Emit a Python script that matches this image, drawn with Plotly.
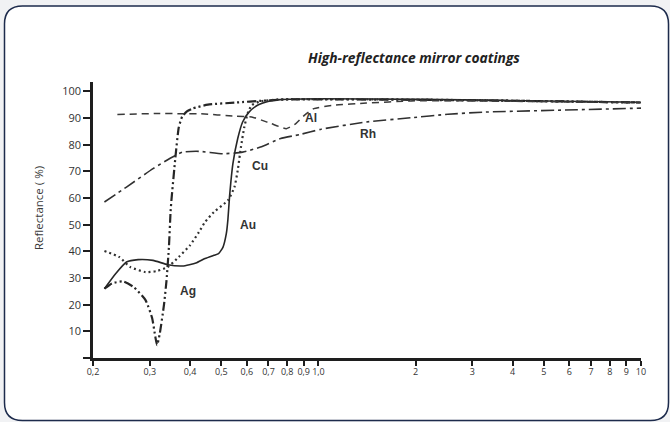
import math
import plotly.graph_objects as go

# ---- data (wavelength in µm, reflectance in %) ----
ag_x = [0.217, 0.229, 0.248, 0.268, 0.291, 0.305, 0.312, 0.316, 0.322, 0.332, 0.338, 0.344, 0.348, 0.350,
        0.360, 0.369, 0.378, 0.391, 0.408, 0.454, 0.555, 0.675, 0.826, 1.0, 2.06, 3.81, 5.92, 10]
ag_y = [26, 28, 28.7, 26.5, 21.7, 15, 8, 4.8, 9, 20, 29, 42, 55, 59,
        75, 86.5, 90.5, 92.5, 93.6, 95, 95.8, 96.5, 97, 97, 96.8, 96.5, 96.2, 95.8]

au_x = [0.217, 0.235, 0.254, 0.276, 0.307, 0.341, 0.379, 0.417, 0.445, 0.474, 0.490, 0.506, 0.518, 0.524,
        0.530, 0.543, 0.562, 0.582, 0.609, 0.647, 0.702, 0.761, 1.0, 2.06, 3.81, 10]
au_y = [26, 31.6, 36, 36.9, 36.6, 35, 34.5, 35.6, 37.3, 38.5, 39.1, 41.6, 46.6, 52,
        60.4, 72.9, 82.3, 88.5, 92.2, 94.8, 96.3, 96.9, 97.2, 97, 96.6, 95.9]

cu_x = [0.217, 0.241, 0.261, 0.291, 0.315, 0.341, 0.369, 0.400, 0.426, 0.445, 0.474, 0.524, 0.549, 0.562,
        0.575, 0.589, 0.603, 0.621, 0.658, 0.761, 1.0, 2.06, 3.81, 10]
cu_y = [40.1, 37.9, 34.1, 32.2, 32.6, 34.1, 37.9, 42.3, 47.2, 51, 54.7, 59.1, 64.1, 70.4,
        79.1, 86.6, 91.6, 94.8, 96.2, 97, 97.1, 96.9, 96.5, 95.8]

al_x = [0.238, 0.315, 0.378, 0.426, 0.555, 0.621, 0.666, 0.714, 0.795, 0.851, 0.904, 0.967, 1.121, 1.407,
        1.942, 2.58, 3.81, 10]
al_y = [91.3, 91.7, 91.6, 91.6, 90.7, 90.4, 89.2, 87.9, 86, 87.9, 91, 93.5, 94.8, 95.6,
        96.4, 96.5, 96.3, 95.7]

rh_x = [0.217, 0.254, 0.307, 0.346, 0.379, 0.426, 0.506, 0.582, 0.661, 0.763, 0.876, 1.02, 1.407, 1.942,
        2.52, 3.25, 6.35, 10]
rh_y = [58.5, 64.1, 71, 74.8, 77.2, 77.5, 76.6, 77.2, 79.1, 82.3, 83.8, 85.8, 88.5, 90.1,
        91.4, 92.2, 93.1, 93.7]

x_tick_vals = [0.2, 0.3, 0.4, 0.5, 0.6, 0.7, 0.8, 0.9, 1.0, 2, 3, 4, 5, 6, 7, 8, 9, 10]
x_tick_text = ["0,2", "0,3", "0,4", "0,5", "0,6", "0,7", "0,8", "0,9", "1,0",
               "2", "3", "4", "5", "6", "7", "8", "9", "10"]
y_tick_vals = [0, 10, 20, 30, 40, 50, 60, 70, 80, 90, 100]
y_tick_text = ["", "10", "20", "30", "40", "50", "60", "70", "80", "90", "100"]

series_names = ["Ag", "Au", "Cu", "Al", "Rh"]
label_x = [0.394, 0.604, 0.658, 0.945, 1.421]
label_y = [25, 50, 72, 90, 84]

title_text = "High-reflectance mirror coatings"
y_title_text = "Reflectance ( %)"

# ---- layout geometry ----
W, H = 670, 422
ML, MR, MT, MB = 93, 29, 82, 64
PW, PH = W - ML - MR, H - MT - MB


def pxx(px):
    return (px - ML) / PW


def pxy(py):
    return (H - MB - py) / PH


fig = go.Figure()

styles = [
    dict(width=2.2, dash="9px,3px,2px,3px,2px,3px", color="#262626"),
    dict(width=1.6, dash="solid", color="#262626"),
    dict(width=2.2, dash="2px,3px", color="#303030"),
    dict(width=1.5, dash="7px,5px", color="#3a3a3a"),
    dict(width=1.6, dash="13px,4px,3px,4px", color="#303030"),
]
xs = [ag_x, au_x, cu_x, al_x, rh_x]
ys = [ag_y, au_y, cu_y, al_y, rh_y]
for name, x, y, st in zip(series_names, xs, ys, styles):
    fig.add_trace(go.Scatter(x=x, y=y, mode="lines", name=name,
                             line=dict(shape="spline", smoothing=0.5, **st),
                             showlegend=False, hoverinfo="skip"))

for name, lx, ly in zip(series_names, label_x, label_y):
    fig.add_annotation(x=math.log10(lx), y=ly, xref="x", yref="y", text="<b>" + name + "</b>",
                       xanchor="center", yanchor="middle",
                       showarrow=False, font=dict(family="Liberation Sans", size=12, color="#333333"))

# frame (rounded rectangle)
L, R, T, B, r = 4.5, 668.5, 6, 420.5, 18
pts = [
    ("M", L + r, T), ("L", R - r, T), ("Q", R, T, R, T + r), ("L", R, B - r),
    ("Q", R, B, R - r, B), ("L", L + r, B), ("Q", L, B, L, B - r), ("L", L, T + r),
    ("Q", L, T, L + r, T),
]
path = ""
for p in pts:
    if p[0] == "Q":
        path += f"Q{pxx(p[1]):.5f},{pxy(p[2]):.5f} {pxx(p[3]):.5f},{pxy(p[4]):.5f} "
    else:
        path += f"{p[0]}{pxx(p[1]):.5f},{pxy(p[2]):.5f} "
path += "Z"
fig.add_shape(type="path", path=path, xref="paper", yref="paper",
              line=dict(color="#1d2b4c", width=1.5), fillcolor="white", layer="below")

fig.add_annotation(text="<b><i>" + title_text + "</i></b>", xref="paper", yref="paper",
                   x=pxx(414), y=pxy(57.5), xanchor="center", yanchor="middle", showarrow=False,
                   font=dict(family="Open Sans", size=13.8, color="#222222"))
fig.add_annotation(text=y_title_text, xref="paper", yref="paper", textangle=-90,
                   x=pxx(38), y=pxy(208), xanchor="center", yanchor="middle", showarrow=False,
                   font=dict(family="Open Sans", size=11.5, color="#3a3a3a"))

fig.update_layout(
    width=W, height=H,
    margin=dict(l=ML, r=MR, t=MT, b=MB, pad=0),
    paper_bgcolor="#f1f2f4",
    plot_bgcolor="rgba(0,0,0,0)",
    xaxis=dict(type="log", range=[-0.69897, 1.0], tickvals=x_tick_vals, ticktext=x_tick_text,
               showgrid=False, zeroline=False, showline=True, linecolor="#1e1e1e", linewidth=2.5,
               ticks="outside", ticklen=5, tickwidth=2, tickcolor="#1e1e1e", ticklabelstandoff=-2,
               tickfont=dict(family="Open Sans", size=9, color="#333333")),
    yaxis=dict(range=[0, 103.5], tickvals=y_tick_vals, ticktext=y_tick_text,
               showgrid=False, zeroline=False, showline=True, linecolor="#1e1e1e", linewidth=2.5,
               ticks="outside", ticklen=7, tickwidth=2, tickcolor="#1e1e1e",
               tickfont=dict(family="Open Sans", size=11, color="#333333")),
)

fig.write_html("out.html", config={"displayModeBar": False},
               post_script="document.body.style.margin='0';document.body.style.background='#f1f2f4';")
